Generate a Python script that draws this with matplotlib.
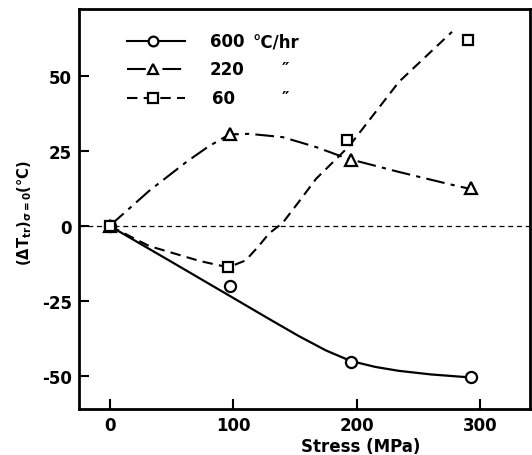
import matplotlib
matplotlib.use('Agg')
import matplotlib.pyplot as plt

# measured points (stress in MPa, (dT_tr) at sigma=0 in degC)
stress_pts = [0, 97, 195, 292]
rate_600 = [0, -20, -45.3, -50.5]
rate_220 = [0, 30.5, 22, 12.5]
rate_60 = [0, -13.8, 28.5, 62]
stress_pts_60 = [0, 96, 192, 290]

# hand-drawn fit curves
fit600_x = [0, 46, 100, 129, 153, 175, 195, 215, 234, 260, 292]
fit600_y = [0, -11, -24, -31, -36.7, -41.5, -45, -47, -48.3, -49.5, -50.5]
fit220_x = [0, 32, 62, 80, 97, 113, 140, 167, 192, 234, 274, 290]
fit220_y = [0, 11.7, 21.3, 26.5, 30.5, 30.7, 29.6, 26.3, 22.5, 18, 14, 12.5]
fit60_x = [0, 32, 73, 96, 110, 120, 129, 140, 153, 167, 194, 234, 277]
fit60_y = [0, -6.7, -11.7, -13.8, -11.5, -7, -2.5, 1, 8, 15.7, 26.7, 48, 64.7]

x_ticks = [0, 100, 200, 300]
y_ticks = [-50, -25, 0, 25, 50]
legend_rates = ['600', '220', '60']
legend_units = ['\u00b0C/hr', '\u2033', '\u2033']

plt.rcParams['font.family'] = ['DejaVu Sans']
plt.rcParams['font.weight'] = 'bold'
plt.rcParams['axes.unicode_minus'] = False

fig = plt.figure(figsize=(5.32, 4.56), dpi=100)
ax = fig.add_axes([0.148, 0.101, 0.848, 0.877])

ax.axhline(0, color='black', lw=0.9, linestyle=(0, (4, 3)))

ax.plot(fit600_x, fit600_y, color='black', lw=1.6, linestyle='-')
ax.plot(fit220_x, fit220_y, color='black', lw=1.5, linestyle=(0, (9, 3, 2, 3)))
ax.plot(fit60_x, fit60_y, color='black', lw=1.5, linestyle=(0, (5, 3)))

mk = dict(color='black', linestyle='none', markerfacecolor='white',
          markeredgewidth=1.6, markersize=8, zorder=5)
ax.plot(stress_pts, rate_600, marker='o', **mk)
ax.plot(stress_pts, rate_220, marker='^', **mk)
ax.plot(stress_pts_60, rate_60, marker='s', **dict(mk, markersize=7))

# legend drawn by hand
styles = ['-', (0, (9, 3, 2, 3)), (0, (5, 3))]
markers = ['o', '^', 's']
rows = [0.92, 0.85, 0.778]
for i in range(3):
    ax.plot([0.107, 0.235], [rows[i], rows[i]], transform=ax.transAxes,
            color='black', lw=1.5, linestyle=styles[i])
    ax.plot([0.164], [rows[i]], transform=ax.transAxes, marker=markers[i],
            **dict(mk, markersize=7))
    ax.text(0.29 if i < 2 else 0.295, rows[i], legend_rates[i], transform=ax.transAxes,
            fontsize=12, fontweight='bold', va='center', ha='left')
    ax.text(0.385 if i == 0 else 0.45, rows[i], legend_units[i], transform=ax.transAxes,
            fontsize=12, fontweight='bold', va='center', ha='left')

ax.set_xlim(-25, 340)
ax.set_ylim(-61, 72.3)
ax.set_xticks(x_ticks)
ax.set_yticks(y_ticks)
ax.tick_params(direction='in', length=7, width=1.5, labelsize=12, pad=5)
for lab in ax.get_xticklabels() + ax.get_yticklabels():
    lab.set_fontweight('bold')
for s in ax.spines.values():
    s.set_linewidth(2)

fig.text(361 / 532, 1 - 447 / 456, 'Stress (MPa)', ha='center', va='center',
         fontsize=12, fontweight='bold')
fig.text(25 / 532, 1 - 213 / 456, r'$\mathbf{(\Delta T_{tr})_{\sigma=0}}$' + '(\u00b0C)',
         ha='center', va='center', rotation=90, fontsize=10.5, fontweight='bold')

fig.savefig('out.png', dpi=100)
